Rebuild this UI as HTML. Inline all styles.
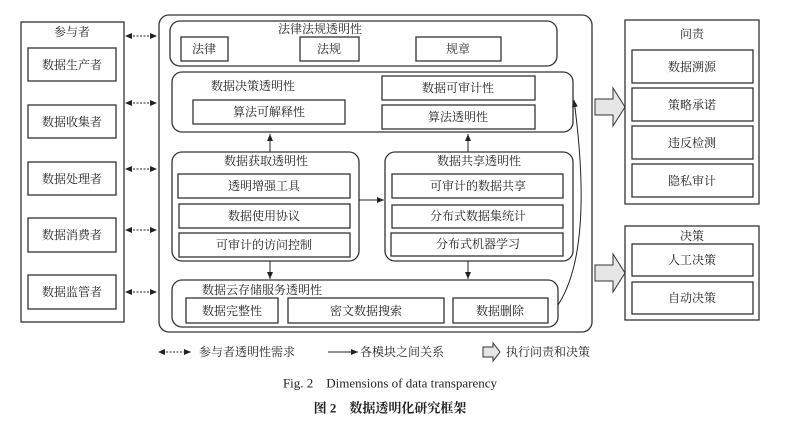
<!DOCTYPE html>
<html><head><meta charset="utf-8"><style>
body{margin:0;background:#fff}
svg{display:block}
text{font-family:"Liberation Serif","Noto Serif CJK SC","Noto Sans CJK SC",serif;font-size:12px;fill:#222;text-anchor:middle;dominant-baseline:central}
.b{fill:#fff;stroke:#333;stroke-width:1.3}
.l{stroke:#222;stroke-width:1;fill:none}
.d{stroke:#222;stroke-width:1;stroke-dasharray:2,1.5;fill:none}
</style></head><body>
<svg width="788" height="426" viewBox="0 0 788 426">
<defs>
<marker id="a" markerWidth="8" markerHeight="8" refX="7" refY="4" orient="auto" markerUnits="userSpaceOnUse"><path d="M0,1 L7,4 L0,7z" fill="#222"/></marker>
<marker id="s" markerWidth="8" markerHeight="8" refX="1" refY="4" orient="auto" markerUnits="userSpaceOnUse"><path d="M7,1 L0,4 L7,7z" fill="#222"/></marker>
</defs>
<rect class="b" x="21" y="22" width="103" height="300"/>
<text x="72" y="32">参与者</text>
<rect class="b" x="28" y="48" width="88" height="33"/><text x="72" y="65">数据生产者</text>
<rect class="b" x="28" y="105" width="88" height="33"/><text x="72" y="122">数据收集者</text>
<rect class="b" x="28" y="162" width="88" height="33"/><text x="72" y="179">数据处理者</text>
<rect class="b" x="28" y="218" width="88" height="34"/><text x="72" y="235">数据消费者</text>
<rect class="b" x="28" y="275" width="88" height="34"/><text x="72" y="292">数据监管者</text>
<g class="d">
<line x1="126" y1="36" x2="157" y2="36" marker-start="url(#s)" marker-end="url(#a)"/>
<line x1="126" y1="103" x2="157" y2="103" marker-start="url(#s)" marker-end="url(#a)"/>
<line x1="126" y1="169" x2="157" y2="169" marker-start="url(#s)" marker-end="url(#a)"/>
<line x1="126" y1="230" x2="157" y2="230" marker-start="url(#s)" marker-end="url(#a)"/>
<line x1="126" y1="292" x2="157" y2="292" marker-start="url(#s)" marker-end="url(#a)"/>
</g>
<rect class="b" x="159" y="15" width="433" height="317" rx="10"/>
<rect class="b" x="170" y="21" width="387" height="45" rx="10"/>
<text x="320" y="29">法律法规透明性</text>
<rect class="b" x="181" y="37" width="47" height="24"/><text x="204" y="49">法律</text>
<rect class="b" x="300" y="37" width="59" height="24"/><text x="329" y="49">法规</text>
<rect class="b" x="416" y="37" width="85" height="24"/><text x="458" y="49">规章</text>

<rect class="b" x="172" y="72" width="401" height="60" rx="10"/>
<text x="253" y="86">数据决策透明性</text>
<rect class="b" x="193" y="100" width="152" height="24"/><text x="269" y="112">算法可解释性</text>
<rect class="b" x="382" y="76" width="153" height="24"/><text x="458" y="88">数据可审计性</text>
<rect class="b" x="382" y="105" width="153" height="24"/><text x="458" y="117">算法透明性</text>

<line class="l" x1="270" y1="152" x2="270" y2="134" marker-end="url(#a)"/>
<line class="l" x1="468" y1="152" x2="468" y2="134" marker-end="url(#a)"/>

<rect class="b" x="172" y="152" width="187" height="109" rx="10"/>
<text x="266" y="161">数据获取透明性</text>
<rect class="b" x="178" y="174" width="172" height="24"/><text x="264" y="186">透明增强工具</text>
<rect class="b" x="179" y="204" width="171" height="24"/><text x="264" y="216">数据使用协议</text>
<rect class="b" x="179" y="233" width="171" height="24"/><text x="264" y="245">可审计的访问控制</text>

<line class="l" x1="359" y1="200" x2="384" y2="200" marker-end="url(#a)"/>

<rect class="b" x="385" y="152" width="188" height="109" rx="10"/>
<text x="479" y="161">数据共享透明性</text>
<rect class="b" x="392" y="174" width="171" height="24"/><text x="478" y="186">可审计的数据共享</text>
<rect class="b" x="392" y="205" width="171" height="23"/><text x="478" y="216">分布式数据集统计</text>
<rect class="b" x="391" y="233" width="172" height="23"/><text x="478" y="244">分布式机器学习</text>

<line class="l" x1="270" y1="261" x2="270" y2="279" marker-end="url(#a)"/>
<line class="l" x1="468" y1="261" x2="468" y2="279" marker-end="url(#a)"/>

<rect class="b" x="172" y="280" width="386" height="47" rx="10"/>
<text x="262" y="290">数据云存储服务透明性</text>
<rect class="b" x="186" y="298" width="92" height="25"/><text x="232" y="311">数据完整性</text>
<rect class="b" x="288" y="298" width="156" height="25"/><text x="366" y="311">密文数据搜索</text>
<rect class="b" x="453" y="298" width="95" height="25"/><text x="500" y="311">数据删除</text>

<path class="l" d="M558,305 Q594,250 574,100" marker-end="url(#a)"/>

<path d="M595,99 L613,99 L613,88 L625,107 L613,126 L613,115 L595,115z" fill="#e6e6e6" stroke="#333"/>
<path d="M595,265 L613,265 L613,254 L625,273 L613,292 L613,281 L595,281z" fill="#e6e6e6" stroke="#333"/>

<rect class="b" x="625" y="20" width="134" height="184"/>
<text x="692" y="34">问责</text>
<rect class="b" x="632" y="50" width="121" height="33"/><text x="692" y="67">数据溯源</text>
<rect class="b" x="632" y="88" width="121" height="33"/><text x="692" y="105">策略承诺</text>
<rect class="b" x="632" y="126" width="121" height="33"/><text x="692" y="143">违反检测</text>
<rect class="b" x="632" y="164" width="121" height="33"/><text x="692" y="181">隐私审计</text>

<rect class="b" x="625" y="226" width="134" height="94"/>
<text x="692" y="236">决策</text>
<rect class="b" x="632" y="244" width="121" height="32"/><text x="692" y="260">人工决策</text>
<rect class="b" x="632" y="282" width="121" height="32"/><text x="692" y="298">自动决策</text>

<line class="d" x1="159" y1="352" x2="191" y2="352" marker-start="url(#s)" marker-end="url(#a)"/>
<text x="247" y="352">参与者透明性需求</text>
<line class="l" x1="328" y1="352" x2="358" y2="352" marker-end="url(#a)"/>
<text x="402" y="352">各模块之间关系</text>
<path d="M483,347 L493,347 L493,343 L500,352 L493,361 L493,357 L483,357z" fill="#e6e6e6" stroke="#333"/>
<text x="548" y="352">执行问责和决策</text>

<text x="390" y="383" style="font-size:13px">Fig. 2　Dimensions of data transparency</text>
<text x="390" y="408" style="font-size:13px;font-weight:bold">图 2　数据透明化研究框架</text>
</svg>
</body></html>
